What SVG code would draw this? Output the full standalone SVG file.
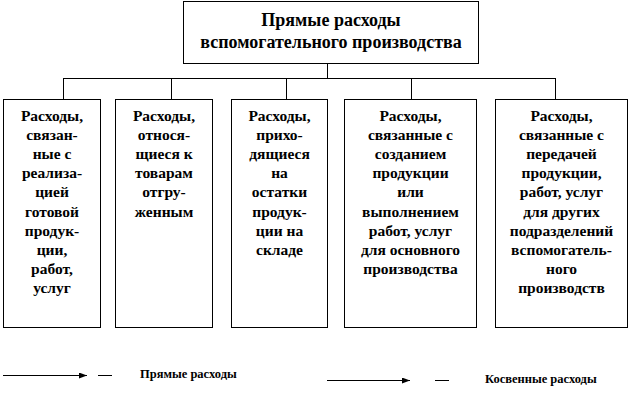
<svg xmlns="http://www.w3.org/2000/svg" width="637" height="401" viewBox="0 0 637 401">
<defs>
<style>
.box{fill:#fff;stroke:#000;stroke-width:1}
.ln{fill:none;stroke:#000;stroke-width:1}
text{font-family:'Liberation Serif','Times New Roman','DejaVu Serif',serif;font-weight:bold;fill:#000;text-anchor:middle}
.t{font-size:18px}
.b{font-size:15.5px}
.lg{font-size:12.5px;text-anchor:start}
</style>
<marker id="ah" viewBox="0 0 8 6" refX="8" refY="3" markerWidth="8" markerHeight="6" markerUnits="userSpaceOnUse" orient="auto">
<path d="M0,0 L8,3 L0,6 Z" fill="#000"/>
</marker>
</defs>
<rect width="637" height="401" fill="#fff"/>
<g id="connectors">
<path class="ln" d="M327.5,63 V78.5 M63.5,78.5 H555.5 M63.5,78 V99 M171.5,78 V99 M286.5,78 V99 M411.5,78 V99 M555.5,78 V99"/>
</g>
<g font-family="Liberation Serif, DejaVu Serif, serif">
<g id="top">
<rect class="box" x="183.5" y="1.5" width="295" height="62"/>
<text class="t" x="331" y="26">Прямые расходы</text>
<text class="t" x="331" y="48">вспомогательного производства</text>
</g>
<g id="n1">
<rect class="box" x="3.5" y="99.5" width="97" height="228"/>
<text class="b" x="52" y="120.5">Расходы,</text>
<text class="b" x="52" y="139.7">связан-</text>
<text class="b" x="52" y="158.9">ные с</text>
<text class="b" x="52" y="178.1">реализа-</text>
<text class="b" x="52" y="197.3">цией</text>
<text class="b" x="52" y="216.5">готовой</text>
<text class="b" x="52" y="235.7">продук-</text>
<text class="b" x="52" y="254.9">ции,</text>
<text class="b" x="52" y="274.1">работ,</text>
<text class="b" x="52" y="293.3">услуг</text>
</g>
<g id="n2">
<rect class="box" x="115.5" y="99.5" width="97" height="228"/>
<text class="b" x="164" y="120.5">Расходы,</text>
<text class="b" x="164" y="139.7">относя-</text>
<text class="b" x="164" y="158.9">щиеся к</text>
<text class="b" x="164" y="178.1">товарам</text>
<text class="b" x="164" y="197.3">отгру-</text>
<text class="b" x="164" y="216.5">женным</text>
</g>
<g id="n3">
<rect class="box" x="231.5" y="99.5" width="96" height="228"/>
<text class="b" x="279.5" y="120.5">Расходы,</text>
<text class="b" x="279.5" y="139.7">прихо-</text>
<text class="b" x="279.5" y="158.9">дящиеся</text>
<text class="b" x="279.5" y="178.1">на</text>
<text class="b" x="279.5" y="197.3">остатки</text>
<text class="b" x="279.5" y="216.5">продук-</text>
<text class="b" x="279.5" y="235.7">ции на</text>
<text class="b" x="279.5" y="254.9">складе</text>
</g>
<g id="n4">
<rect class="box" x="344.5" y="99.5" width="132" height="228"/>
<text class="b" x="410.5" y="120.5">Расходы,</text>
<text class="b" x="410.5" y="139.7">связанные с</text>
<text class="b" x="410.5" y="158.9">созданием</text>
<text class="b" x="410.5" y="178.1">продукции</text>
<text class="b" x="410.5" y="197.3">или</text>
<text class="b" x="410.5" y="216.5">выполнением</text>
<text class="b" x="410.5" y="235.7">работ, услуг</text>
<text class="b" x="410.5" y="254.9">для основного</text>
<text class="b" x="410.5" y="274.1">производства</text>
</g>
<g id="n5">
<rect class="box" x="495.5" y="99.5" width="132" height="228"/>
<text class="b" x="561.5" y="120.5">Расходы,</text>
<text class="b" x="561.5" y="139.7">связанные с</text>
<text class="b" x="561.5" y="158.9">передачей</text>
<text class="b" x="561.5" y="178.1">продукции,</text>
<text class="b" x="561.5" y="197.3">работ, услуг</text>
<text class="b" x="561.5" y="216.5">для других</text>
<text class="b" x="561.5" y="235.7">подразделений</text>
<text class="b" x="561.5" y="254.9">вспомогатель-</text>
<text class="b" x="561.5" y="274.1">ного</text>
<text class="b" x="561.5" y="293.3">производств</text>
</g>
</g>
<g id="legend">
<path class="ln" d="M3,375.5 H87" marker-end="url(#ah)"/>
<path class="ln" d="M98,375.5 H112"/>
<text class="lg" x="140" y="378">Прямые расходы</text>
<path class="ln" d="M327,380.5 H410" marker-end="url(#ah)"/>
<path class="ln" d="M435,380.5 H449"/>
<text class="lg" x="485" y="383">Косвенные расходы</text>
</g>
</svg>
